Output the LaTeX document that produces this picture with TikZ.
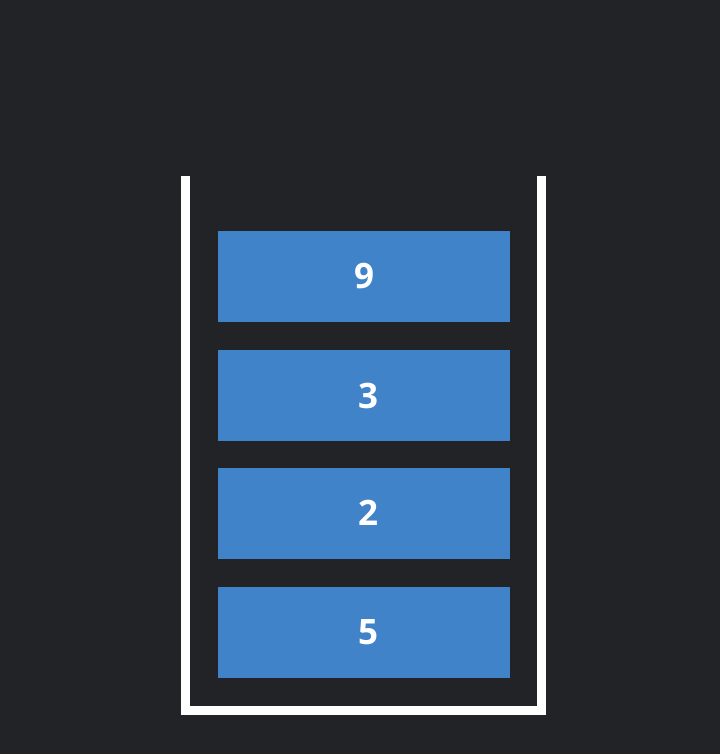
\documentclass[tikz,border=0pt]{standalone}
\usepackage{fontspec}
\setmainfont{Open Sans}
\definecolor{bg}{HTML}{222326}
\definecolor{cellblue}{HTML}{4183C8}
\newcommand{\shiftdigit}[3]{\hspace*{#1}\raisebox{#2}{#3}}
\begin{document}
\begin{tikzpicture}[x=1pt,y=-1pt,
  cell/.style={fill=cellblue, draw=none, minimum width=292pt, minimum height=91pt, inner sep=0pt,
    text=white, font=\bfseries\fontsize{35}{35}\selectfont},
  wall/.style={draw=white, line width=9pt}]
\fill[bg] (0,0) rectangle (720,754);
\useasboundingbox (0,0) rectangle (720,754);
\coordinate (tl) at (185.5,176);
\coordinate (bl) at (185.5,710.5);
\coordinate (br) at (541.5,710.5);
\coordinate (tr) at (541.5,176);
\draw[wall] (tl) -- (bl) -- (br) -- (tr);
\node[cell] (c9) at (364,276.5) {\shiftdigit{0pt}{-2.5pt}{9}};
\node[cell] (c3) at (364,395.5) {\shiftdigit{8pt}{-2.5pt}{3}};
\node[cell] (c2) at (364,513.5) {\shiftdigit{8pt}{2pt}{2}};
\node[cell] (c5) at (364,632.5) {\shiftdigit{8pt}{-2.5pt}{5}};
\end{tikzpicture}
\end{document}
